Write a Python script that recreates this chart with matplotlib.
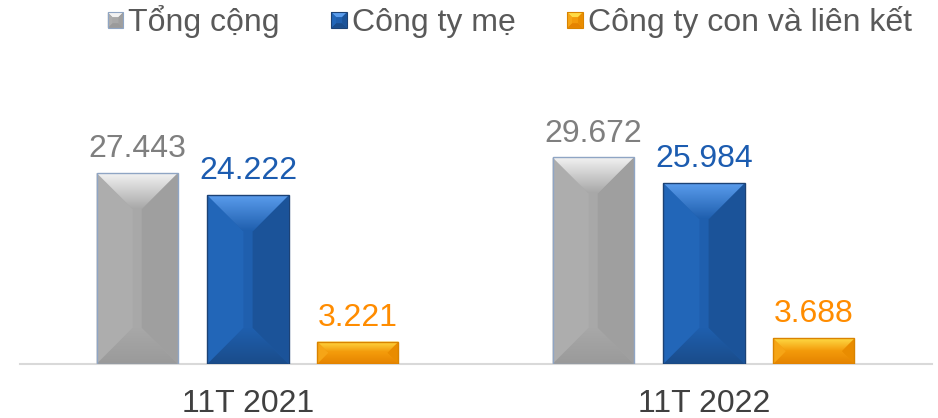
import matplotlib
matplotlib.use("Agg")
import matplotlib.pyplot as plt
from matplotlib.patches import Polygon, Rectangle
from matplotlib.colors import to_rgb
from matplotlib.legend_handler import HandlerBase
import numpy as np

plt.rcParams["font.family"] = ["Liberation Sans", "DejaVu Sans"]

categories = ["11T 2021", "11T 2022"]
series_names = ["Tổng cộng", "Công ty mẹ", "Công ty con và liên kết"]
tong_cong = [27.443, 29.672]
cong_ty_me = [24.222, 25.984]
cong_ty_con = [3.221, 3.688]
value_labels = [["27.443", "29.672"], ["24.222", "25.984"], ["3.221", "3.688"]]

# bar shading: main face, top bevel (light end), bottom bevel, left, right, outline
palettes = [
    dict(main="#a8a8a8", top="#f2f2f2", bottom="#9a9a9a", left="#adadad", right="#9f9f9f", edge="#8fa5c4"),
    dict(main="#1f5fae", top="#5a9cec", bottom="#1a4c8a", left="#2266b8", right="#1b5399", edge="#1c4275"),
    dict(main="#f39a0a", top="#ffdb45", bottom="#e58300", left="#f6a516", right="#e98c00", edge="#d98300"),
]
label_colors = ["#7f7f7f", "#1c5cb0", "#ff8c00"]

W, H, DPI = 9.38, 4.18, 100
fig = plt.figure(figsize=(W, H), dpi=DPI)
ax_l, ax_r, ax_b, ax_t = 20, 932, 54, 358  # pixels
ax = fig.add_axes([ax_l / 938, ax_b / 418, (ax_r - ax_l) / 938, (ax_t - ax_b) / 418])

xlim = (-0.5, 1.5)
ylim = (0, (ax_t - ax_b) / 6.96)
sx = (ax_r - ax_l) / (xlim[1] - xlim[0])  # px per unit
sy = (ax_t - ax_b) / (ylim[1] - ylim[0])


def gradient_fill(poly_pts, c_from, c_to, extent, z=2.5):
    """fill polygon with a vertical gradient (c_from at top -> c_to)."""
    a, b = np.array(to_rgb(c_from)), np.array(to_rgb(c_to))
    t = np.linspace(0, 1, 64)[:, None]
    img = (a * (1 - t) + b * t)[:, None, :]
    poly = Polygon(poly_pts, closed=True, facecolor="none", edgecolor="none",
                   transform=ax.transData)
    ax.add_patch(poly)
    im = ax.imshow(img, extent=extent, aspect="auto", origin="upper",
                   interpolation="bilinear", zorder=z)
    im.set_clip_path(poly)


data = [tong_cong, cong_ty_me, cong_ty_con]
x = np.arange(len(categories))
width = 0.178
offsets = [-0.243, 0.0, 0.241]

for i, (vals, pal) in enumerate(zip(data, palettes)):
    bars = ax.bar(x + offsets[i], vals, width, color=pal["main"],
                  edgecolor="none", zorder=2)
    for bar, lab in zip(bars, value_labels[i]):
        x0, y0 = bar.get_x(), bar.get_y()
        w, h = bar.get_width(), bar.get_height()
        x1, y1 = x0 + w, y0 + h
        b_px = min(36, w * sx * 0.45, h * sy * 0.48)
        bx, by = b_px / sx, b_px / sy
        left = [(x0, y0), (x0, y1), (x0 + bx, y1 - by), (x0 + bx, y0 + by)]
        right = [(x1, y0), (x1, y1), (x1 - bx, y1 - by), (x1 - bx, y0 + by)]
        ax.add_patch(Polygon(left, closed=True, facecolor=pal["left"], edgecolor="none", zorder=2.4))
        ax.add_patch(Polygon(right, closed=True, facecolor=pal["right"], edgecolor="none", zorder=2.4))
        top = [(x0, y1), (x1, y1), (x1 - bx, y1 - by), (x0 + bx, y1 - by)]
        bottom = [(x0, y0), (x1, y0), (x1 - bx, y0 + by), (x0 + bx, y0 + by)]
        gradient_fill(top, pal["top"], pal["main"], [x0, x1, y1 - by, y1])
        gradient_fill(bottom, pal["main"], pal["bottom"], [x0, x1, y0, y0 + by])
        ax.add_patch(Rectangle((x0, y0), w, h, facecolor="none",
                               edgecolor=pal["edge"], linewidth=1.0, zorder=3))
        ax.annotate(lab, (x0 + w / 2, y1), xytext=(0, 11.5),
                    textcoords="offset points", ha="center", va="baseline",
                    fontsize=23, color=label_colors[i])

ax.set_xlim(*xlim)
ax.set_ylim(*ylim)


class BevelHandler(HandlerBase):
    def __init__(self, pal):
        super().__init__()
        self.pal = pal

    def create_artists(self, legend, orig_handle, xdescent, ydescent,
                       width, height, fontsize, trans):
        s = min(width, height)
        x0 = -xdescent + (width - s) / 2
        y0 = -ydescent + (height - s) / 2
        b = s * 0.3
        p = self.pal
        x1, y1 = x0 + s, y0 + s
        polys = [
            ([(x0, y0), (x1, y0), (x1, y1), (x0, y1)], p["main"]),
            ([(x0, y1), (x1, y1), (x1 - b, y1 - b), (x0 + b, y1 - b)], p["top"]),
            ([(x0, y0), (x1, y0), (x1 - b, y0 + b), (x0 + b, y0 + b)], p["bottom"]),
            ([(x0, y0), (x0, y1), (x0 + b, y1 - b), (x0 + b, y0 + b)], p["left"]),
            ([(x1, y0), (x1, y1), (x1 - b, y1 - b), (x1 - b, y0 + b)], p["right"]),
        ]
        arts = [Polygon(pts, closed=True, facecolor=c, edgecolor="none", transform=trans)
                for pts, c in polys]
        arts.append(Rectangle((x0, y0), s, s, facecolor="none", edgecolor=p["edge"],
                              linewidth=0.8, transform=trans))
        return arts


handles = [Rectangle((0, 0), 1, 1) for _ in series_names]
handler_map = {h: BevelHandler(p) for h, p in zip(handles, palettes)}
fig.legend(handles, series_names, handler_map=handler_map, loc="center",
           bbox_to_anchor=(0.5435, 1 - 22 / 418), ncol=3, frameon=False,
           fontsize=23, labelcolor="#595959", handlelength=0.48, handleheight=0.48,
           handletextpad=0.16, columnspacing=1.62, borderpad=0, borderaxespad=0)

ax.set_xticks(x)
ax.set_xticklabels(categories, fontsize=23, color="#404040")
ax.tick_params(axis="x", length=0, pad=18)
ax.set_yticks([])
for side in ["left", "right", "top"]:
    ax.spines[side].set_visible(False)
ax.spines["bottom"].set_color("#d9d9d9")
ax.spines["bottom"].set_linewidth(1.5)
ax.spines["bottom"].set_zorder(1)

fig.savefig("out.png", dpi=DPI, facecolor="white")
